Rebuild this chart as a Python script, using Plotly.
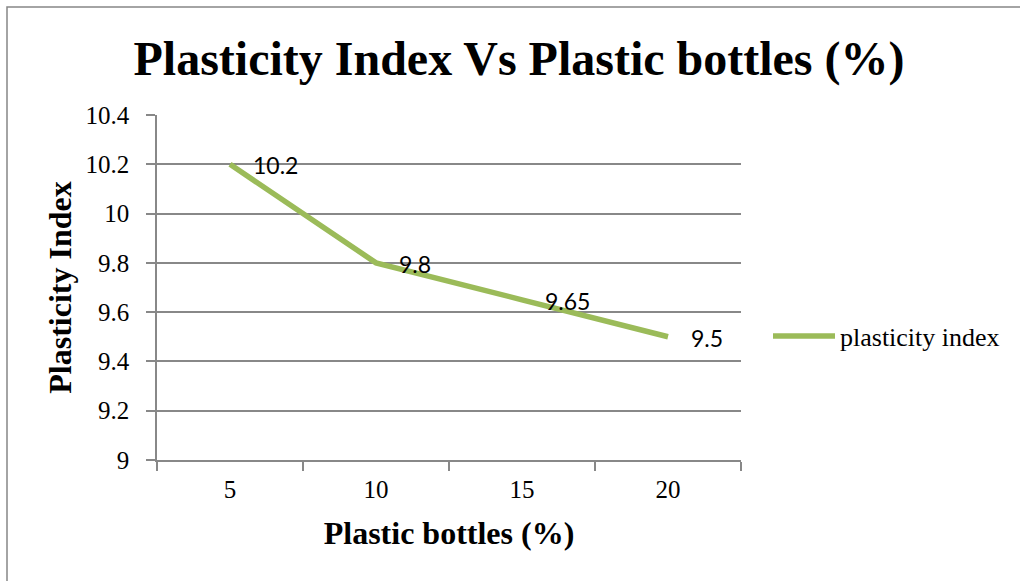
import plotly.graph_objects as go

# Plasticity index measured at each plastic-bottle content
bottle_pct = ["5", "10", "15", "20"]
plasticity_index = [10.2, 9.8, 9.65, 9.5]
y_ticks = [9, 9.2, 9.4, 9.6, 9.8, 10, 10.2, 10.4]
y_tick_text = ["9", "9.2", "9.4", "9.6", "9.8", "10", "10.2", "10.4"]

W, H = 1020, 581
LEFT, RIGHT, TOP, BOTTOM = 157, 279, 115, 121
PW, PH = W - LEFT - RIGHT, H - TOP - BOTTOM

GREEN = "#9BBB59"
GRID = "#888888"
SERIF = "Liberation Serif"
LABEL_FONT = "Lato"

fig = go.Figure()
fig.add_trace(go.Scatter(
    x=bottle_pct,
    y=plasticity_index,
    mode="lines",
    name="plasticity index",
    line=dict(color=GREEN, width=5.5),
))

# value labels sit just to the right of each point (category index positions)
for i, val in enumerate(plasticity_index):
    fig.add_annotation(
        x=i, y=val, xref="x", yref="y",
        text=f"{val:g}", showarrow=False,
        xanchor="left", yanchor="middle", xshift=21, yshift=-1,
        font=dict(family=LABEL_FONT, size=23, color="black"),
    )

# outer chart frame
fig.add_shape(
    type="rect", xref="paper", yref="paper",
    x0=(7 - LEFT) / PW, x1=(W + 5 - LEFT) / PW,
    y0=-(BOTTOM + 5) / PH, y1=1 + (TOP - 7) / PH,
    line=dict(color="#868686", width=1.5), layer="below",
)

fig.update_layout(
    width=W, height=H,
    margin=dict(l=LEFT, r=RIGHT, t=TOP, b=BOTTOM),
    paper_bgcolor="white", plot_bgcolor="white",
    title=dict(
        text="<b>Plasticity Index Vs Plastic bottles (%)</b>",
        font=dict(family=SERIF, size=48, color="black"),
        x=519 / W, xanchor="center", y=1 - 58 / H, yanchor="middle",
    ),
    legend=dict(
        x=(768 - LEFT) / PW, y=(H - BOTTOM - 336) / PH,
        xanchor="left", yanchor="middle",
        itemwidth=62,
        font=dict(family=SERIF, size=26, color="black"),
        bgcolor="rgba(0,0,0,0)",
    ),
    showlegend=True,
    xaxis=dict(
        type="category",
        range=[-0.5, 3.5],
        tickson="boundaries",
        ticks="outside", ticklen=9, tickcolor=GRID, tickwidth=1.5,
        showline=True, linecolor=GRID, linewidth=1.5,
        showgrid=False, zeroline=False,
        tickfont=dict(family=SERIF, size=25, color="black"),
        ticklabelstandoff=6,
        title=dict(text="<b>Plastic bottles (%)</b>",
                   font=dict(family=SERIF, size=32, color="black"),
                   standoff=20),
    ),
    yaxis=dict(
        range=[9, 10.4],
        tickmode="array", tickvals=y_ticks, ticktext=y_tick_text,
        ticks="outside", ticklen=9, tickcolor=GRID, tickwidth=1.5,
        showline=True, linecolor=GRID, linewidth=1.5,
        showgrid=True, gridcolor=GRID, gridwidth=1.5,
        zeroline=False,
        tickfont=dict(family=SERIF, size=25, color="black"),
        ticklabelstandoff=12,
        title=dict(text="<b>Plasticity Index</b>",
                   font=dict(family=SERIF, size=32, color="black"),
                   standoff=4),
    ),
)

fig.write_html("out.html")
